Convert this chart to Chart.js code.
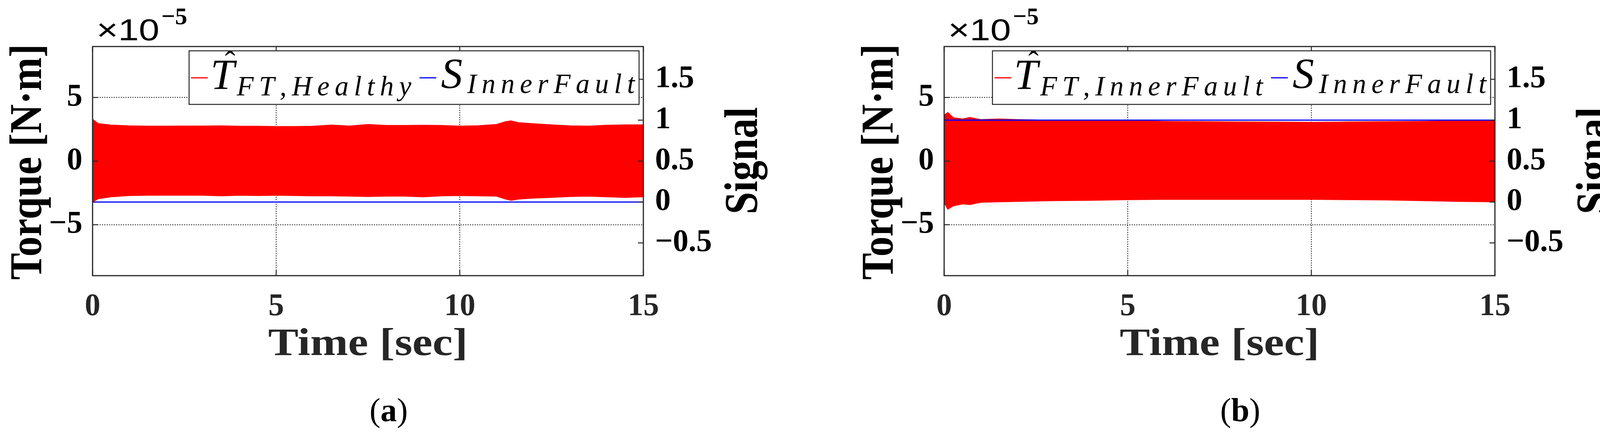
<!DOCTYPE html>
<html>
<head>
<meta charset="utf-8">
<script src="https://cdn.jsdelivr.net/npm/chart.js@4.4.0/dist/chart.umd.min.js"></script>
<style>
  html, body { margin: 0; padding: 0; background: #fff; }
  #wrap { position: relative; width: 4160px; height: 1110px; }
  .panel { position: absolute; top: 0; width: 2080px; height: 1110px; }
</style>
</head>
<body>
<div id="wrap">
  <div class="panel" style="left:0"><canvas id="chartA" width="2080" height="1110"></canvas></div>
  <div class="panel" style="left:2080px"><canvas id="chartB" width="2080" height="1110"></canvas></div>
</div>
<script>
// (a) healthy: envelope of the fast torque oscillation, x1e-5 N.m
const timeA = [0, 0.15, 0.5, 1, 1.5, 2, 2.5, 3, 3.5, 4, 4.5, 5, 5.5, 6, 6.5, 7, 7.5, 8, 8.5, 9, 9.5, 10, 10.5, 11, 11.25, 11.4, 11.6, 12, 12.5, 13, 13.5, 14, 14.5, 15];
const torqueTopA = [3.29, 2.95, 2.83, 2.77, 2.75, 2.75, 2.76, 2.76, 2.77, 2.74, 2.74, 2.72, 2.72, 2.74, 2.83, 2.76, 2.88, 2.80, 2.80, 2.82, 2.80, 2.75, 2.78, 2.88, 3.10, 3.16, 3.02, 2.94, 2.85, 2.77, 2.75, 2.82, 2.85, 2.85];
const torqueBotA = [-3.22, -2.96, -2.81, -2.71, -2.69, -2.69, -2.69, -2.69, -2.73, -2.69, -2.71, -2.69, -2.71, -2.73, -2.73, -2.76, -2.79, -2.76, -2.76, -2.81, -2.73, -2.71, -2.73, -2.76, -2.99, -3.09, -2.99, -2.91, -2.86, -2.79, -2.76, -2.81, -2.86, -2.81];

// (b) inner fault
const timeB = [0, 0.1, 0.25, 0.5, 0.7, 1, 1.5, 2, 2.5, 3, 4, 5, 6, 7, 8, 9, 10, 11, 12, 13, 14, 15];
const torqueTopB = [3.61, 3.82, 3.41, 3.31, 3.43, 3.26, 3.31, 3.26, 3.23, 3.19, 3.18, 3.18, 3.12, 3.10, 3.08, 3.07, 3.05, 3.08, 3.10, 3.12, 3.16, 3.16];
const torqueBotB = [-3.27, -3.78, -3.52, -3.37, -3.42, -3.24, -3.20, -3.17, -3.14, -3.11, -3.09, -3.03, -3.01, -3.01, -3.01, -3.01, -3.01, -3.03, -3.06, -3.11, -3.17, -3.20];

// fault indicator signal
const signalTime = [0, 15];
const signalA = [0, 0];
const signalB = [1, 1];

const xTicks = [0, 5, 10, 15];
const torqueTicks = [-5, 0, 5];
const signalTicks = [-0.5, 0, 0.5, 1, 1.5];

const SERIF = "'Liberation Serif', 'Times New Roman', serif";
const SANS = "'Liberation Sans', Arial, sans-serif";
const INK = '#262626';
Chart.defaults.font.family = SERIF;

const pts = (xs, ys) => xs.map((x, i) => ({ x: x, y: ys[i] }));
const minus = v => (v < 0 ? '\u2212' + Math.abs(v) : String(v));

function fitText(ctx, text, x, y, font, width, rotate) {
  ctx.save();
  ctx.font = font;
  const w = ctx.measureText(text).width;
  ctx.translate(x, y);
  if (rotate) ctx.rotate(-Math.PI / 2);
  ctx.scale(width / w, 1);
  ctx.textAlign = 'center';
  ctx.textBaseline = 'alphabetic';
  ctx.fillText(text, 0, 0);
  ctx.restore();
}

function spaced(ctx, text, x, y, gap, draw) {
  for (const ch of text) {
    if (draw) ctx.fillText(ch, x, y);
    x += ctx.measureText(ch).width + gap;
  }
  return x - gap;
}

// legend row: swatch, T-hat with subscript, swatch, S with subscript
function legendRow(ctx, ox, top, sub1, draw) {
  const swY = top + 80;
  let x = ox + 5;
  if (draw) {
    ctx.strokeStyle = '#ff0000'; ctx.lineWidth = 3;
    ctx.beginPath(); ctx.moveTo(x, swY); ctx.lineTo(x + 43, swY); ctx.stroke();
  }
  x += 50;
  ctx.fillStyle = '#000';
  ctx.textAlign = 'left'; ctx.textBaseline = 'alphabetic';
  if (draw) {
    ctx.font = 'italic 110px ' + SERIF;
    ctx.fillText('T', x, top + 109);
    ctx.font = '80px ' + SERIF;
    ctx.textAlign = 'center';
    ctx.fillText('\u02C6', x + 50, top + 67);
    ctx.textAlign = 'left';
  }
  x += 67;
  ctx.font = 'italic 71px ' + SERIF;
  x = spaced(ctx, sub1, x, top + 125, 13.5, draw);
  x += 21;
  if (draw) {
    ctx.strokeStyle = '#0000ff'; ctx.lineWidth = 3;
    ctx.beginPath(); ctx.moveTo(x, swY); ctx.lineTo(x + 43, swY); ctx.stroke();
  }
  x += 55;
  if (draw) {
    ctx.font = 'italic 110px ' + SERIF;
    ctx.fillText('S', x, top + 106);
  }
  x += 67;
  ctx.font = 'italic 71px ' + SERIF;
  x = spaced(ctx, 'InnerFault', x, top + 119, 13.5, draw);
  return x;
}

function decorPlugin(sub1, letter) {
  return {
    id: 'decor',
    afterDraw(chart) {
      const ctx = chart.ctx;
      const ca = chart.chartArea;
      const sx = chart.scales.x, sy = chart.scales.y, sy1 = chart.scales.y1;
      ctx.save();

      // inward ticks
      ctx.strokeStyle = INK; ctx.lineWidth = 2.5;
      ctx.beginPath();
      xTicks.forEach(v => {
        const p = sx.getPixelForValue(v);
        ctx.moveTo(p, ca.bottom); ctx.lineTo(p, ca.bottom - 14);
        ctx.moveTo(p, ca.top); ctx.lineTo(p, ca.top + 14);
      });
      torqueTicks.forEach(v => {
        const p = sy.getPixelForValue(v);
        ctx.moveTo(ca.left, p); ctx.lineTo(ca.left + 14, p);
      });
      signalTicks.forEach(v => {
        const p = sy1.getPixelForValue(v);
        ctx.moveTo(ca.right, p); ctx.lineTo(ca.right - 14, p);
      });
      ctx.stroke();

      // box
      ctx.lineWidth = 3;
      ctx.strokeRect(ca.left, ca.top, ca.right - ca.left, ca.bottom - ca.top);

      // legend
      const w = legendRow(ctx, 0, ca.top, sub1, false) + 11;
      const bx = ca.right - 11 - w;
      ctx.fillStyle = '#fff';
      ctx.fillRect(bx, ca.top + 11, w, 137);
      ctx.strokeStyle = INK; ctx.lineWidth = 2.5;
      ctx.strokeRect(bx, ca.top + 11, w, 137);
      legendRow(ctx, bx, ca.top, sub1, true);

      // axis titles
      ctx.fillStyle = '#000';
      fitText(ctx, 'Torque [N\u00B7m]', ca.left - 132, 414, 'bold 116px ' + SERIF, 603, true);
      fitText(ctx, 'Signal', ca.right + 291, 411, 'bold 120px ' + SERIF, 274, true);
      ctx.fillStyle = INK;
      fitText(ctx, 'Time [sec]', (ca.left + ca.right) / 2, 908, 'bold 100px ' + SERIF, 511, false);

      // exponent label
      ctx.fillStyle = '#000';
      ctx.textAlign = 'left'; ctx.textBaseline = 'alphabetic';
      ctx.save();
      ctx.font = '78px ' + SANS;
      const ew = ctx.measureText('\u00D710').width;
      ctx.translate(ca.left + 10, 103);
      ctx.scale(161 / ew, 1);
      ctx.fillText('\u00D710', 0, 0);
      ctx.restore();
      ctx.font = 'bold 62px ' + SERIF;
      ctx.fillText('\u22125', ca.left + 176, 62);

      // caption
      ctx.font = '84px ' + SERIF;
      const pw = ctx.measureText('(').width;
      ctx.font = 'bold 84px ' + SERIF;
      const lw = ctx.measureText(letter).width;
      let cx = (ca.left + ca.right) / 2 + 53 - (2 * pw + lw) / 2;
      ctx.font = '84px ' + SERIF;
      ctx.fillText('(', cx, 1077); cx += pw;
      ctx.font = 'bold 84px ' + SERIF;
      ctx.fillText(letter, cx, 1077); cx += lw;
      ctx.font = '84px ' + SERIF;
      ctx.fillText(')', cx, 1077);

      ctx.restore();
    }
  };
}

function makeChart(id, geom, time, top, bot, sig, sub1, letter) {
  const tickFont = { size: 80, weight: 'bold', family: SERIF };
  return new Chart(document.getElementById(id), {
    type: 'line',
    data: {
      datasets: [
        { data: pts(signalTime, sig), yAxisID: 'y1', borderColor: '#0000ff', borderWidth: 3, pointRadius: 0, fill: false },
        { data: pts(time, top), yAxisID: 'y', borderColor: '#ff0000', backgroundColor: '#ff0000', borderWidth: 2, pointRadius: 0, fill: '+1' },
        { data: pts(time, bot), yAxisID: 'y', borderColor: '#ff0000', borderWidth: 2, pointRadius: 0, fill: false }
      ]
    },
    options: {
      responsive: false,
      devicePixelRatio: 1,
      animation: false,
      layout: { padding: { top: geom.top, left: 0, right: 0, bottom: 0 } },
      plugins: { legend: { display: false }, tooltip: { enabled: false } },
      elements: { line: { tension: 0 } },
      scales: {
        x: {
          type: 'linear', min: 0, max: 15,
          afterBuildTicks: s => { s.ticks = xTicks.map(v => ({ value: v })); },
          afterFit: s => { s.height = 1110 - geom.bottom; },
          border: { display: false, dash: [3, 3] },
          grid: { color: INK, lineWidth: 2, drawTicks: false },
          ticks: { font: tickFont, color: INK, padding: 32, autoSkip: false, maxRotation: 0, callback: v => minus(v) }
        },
        y: {
          position: 'left', min: -9, max: 9,
          afterBuildTicks: s => { s.ticks = torqueTicks.map(v => ({ value: v })); },
          afterFit: s => { s.width = geom.left; },
          border: { display: false, dash: [3, 3] },
          grid: { color: INK, lineWidth: 2, drawTicks: false },
          ticks: { font: tickFont, color: '#000', padding: 26, callback: v => minus(v) }
        },
        y1: {
          position: 'right', min: -0.9, max: 1.9,
          afterBuildTicks: s => { s.ticks = signalTicks.map(v => ({ value: v })); },
          afterFit: s => { s.width = 2080 - geom.right; },
          border: { display: false },
          grid: { display: false, drawOnChartArea: false, drawTicks: false },
          ticks: { font: tickFont, color: '#000', padding: 30, callback: v => minus(v) }
        }
      }
    },
    plugins: [decorPlugin(sub1, letter)]
  });
}

makeChart('chartA', { left: 237, right: 1647, top: 119, bottom: 705 }, timeA, torqueTopA, torqueBotA, signalA, 'FT,Healthy', 'a');
makeChart('chartB', { left: 337, right: 1747, top: 119, bottom: 705 }, timeB, torqueTopB, torqueBotB, signalB, 'FT,InnerFault', 'b');
</script>
</body>
</html>
